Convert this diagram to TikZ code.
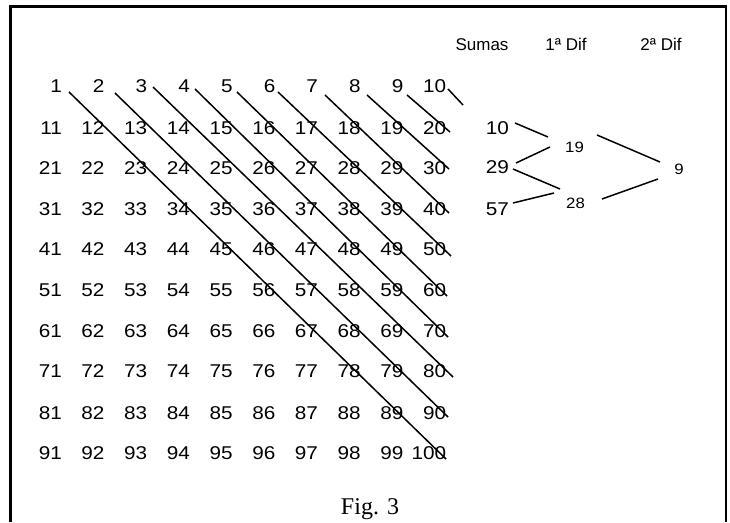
\documentclass[tikz,border=0pt]{standalone}
\usepackage{fontspec}
\setmainfont{Liberation Sans}
\newfontfamily\numfont[FakeStretch=1.12]{Liberation Sans}
\newfontfamily\figfont{Liberation Serif}
\begin{document}
\begin{tikzpicture}[x=1pt,y=-1pt,
  num/.style={inner sep=0pt, anchor=base east, font=\numfont\fontsize{18.5}{20}\selectfont},
  small/.style={inner sep=0pt, anchor=base, font=\numfont\fontsize{15}{18}\selectfont},
  head/.style={inner sep=0pt, anchor=base, font=\fontsize{17}{20}\selectfont},
  diag/.style={line width=1.5pt},
  link/.style={line width=1.5pt}]
\useasboundingbox (0,0) rectangle (730,522);
% frame
\draw[line width=3pt] (10.5,522) -- (10.5,6.5) -- (727,6.5);
\draw[line width=2pt] (726,5) -- (726,522);
% grid of numbers
\foreach \i/\y in {0/92.5,1/134.5,2/174.5,3/215.5,4/255.5,5/296.5,6/337.5,7/377.5,8/419.5,9/459.5}{
  \foreach \j in {1,...,10}{
    \pgfmathtruncatemacro{\n}{10*\i+\j}
    \pgfmathsetmacro{\xx}{62+42.7*(\j-1)}
    \node[num] (n\n) at (\xx,\y) {\n};
  }
}
% diagonal lines
\foreach \k/\sx/\sy/\ex/\ey in {1/69/92/446/459, 2/115/93/448/417, 3/153/87/453/377,
  4/195/89/448/337, 5/237/92/447/296, 6/278/92/451/256, 7/325/95/449/213,
  8/367/95/449/169, 9/407/95/450/132, 10/448/89/463/105}{
  \coordinate (s\k) at (\sx,\sy);
  \coordinate (e\k) at (\ex,\ey);
  \draw[diag] (s\k) -- (e\k);
}
% headers
\node[head] (hs) at (482,50) {Sumas};
\node[head] (h1) at (566,50) {1ª Dif};
\node[head] (h2) at (661,50) {2ª Dif};
% sums
\node[num] (s10) at (509,134) {10};
\node[num] (s29) at (509,173.5) {29};
\node[num] (s57) at (509,215.5) {57};
\node[small] (d19) at (574.5,152) {19};
\node[small] (d28) at (575.5,208) {28};
\node[small] (d9) at (679,174.5) {9};
\coordinate (a1) at (515,123); \coordinate (b1) at (548,137);
\coordinate (a2) at (516,163); \coordinate (b2) at (550,147);
\coordinate (a3) at (513,169); \coordinate (b3) at (560,189);
\coordinate (a4) at (513,203); \coordinate (b4) at (554,193);
\coordinate (a5) at (597,135); \coordinate (b5) at (660,162);
\coordinate (a6) at (602,199); \coordinate (b6) at (658,179);
\foreach \m in {1,...,6}{\draw[link] (a\m) -- (b\m);}
% caption
\node[inner sep=0pt, anchor=base, font=\figfont\fontsize{24}{28}\selectfont] (fig) at (370,514) {Fig. 3};
\end{tikzpicture}
\end{document}
